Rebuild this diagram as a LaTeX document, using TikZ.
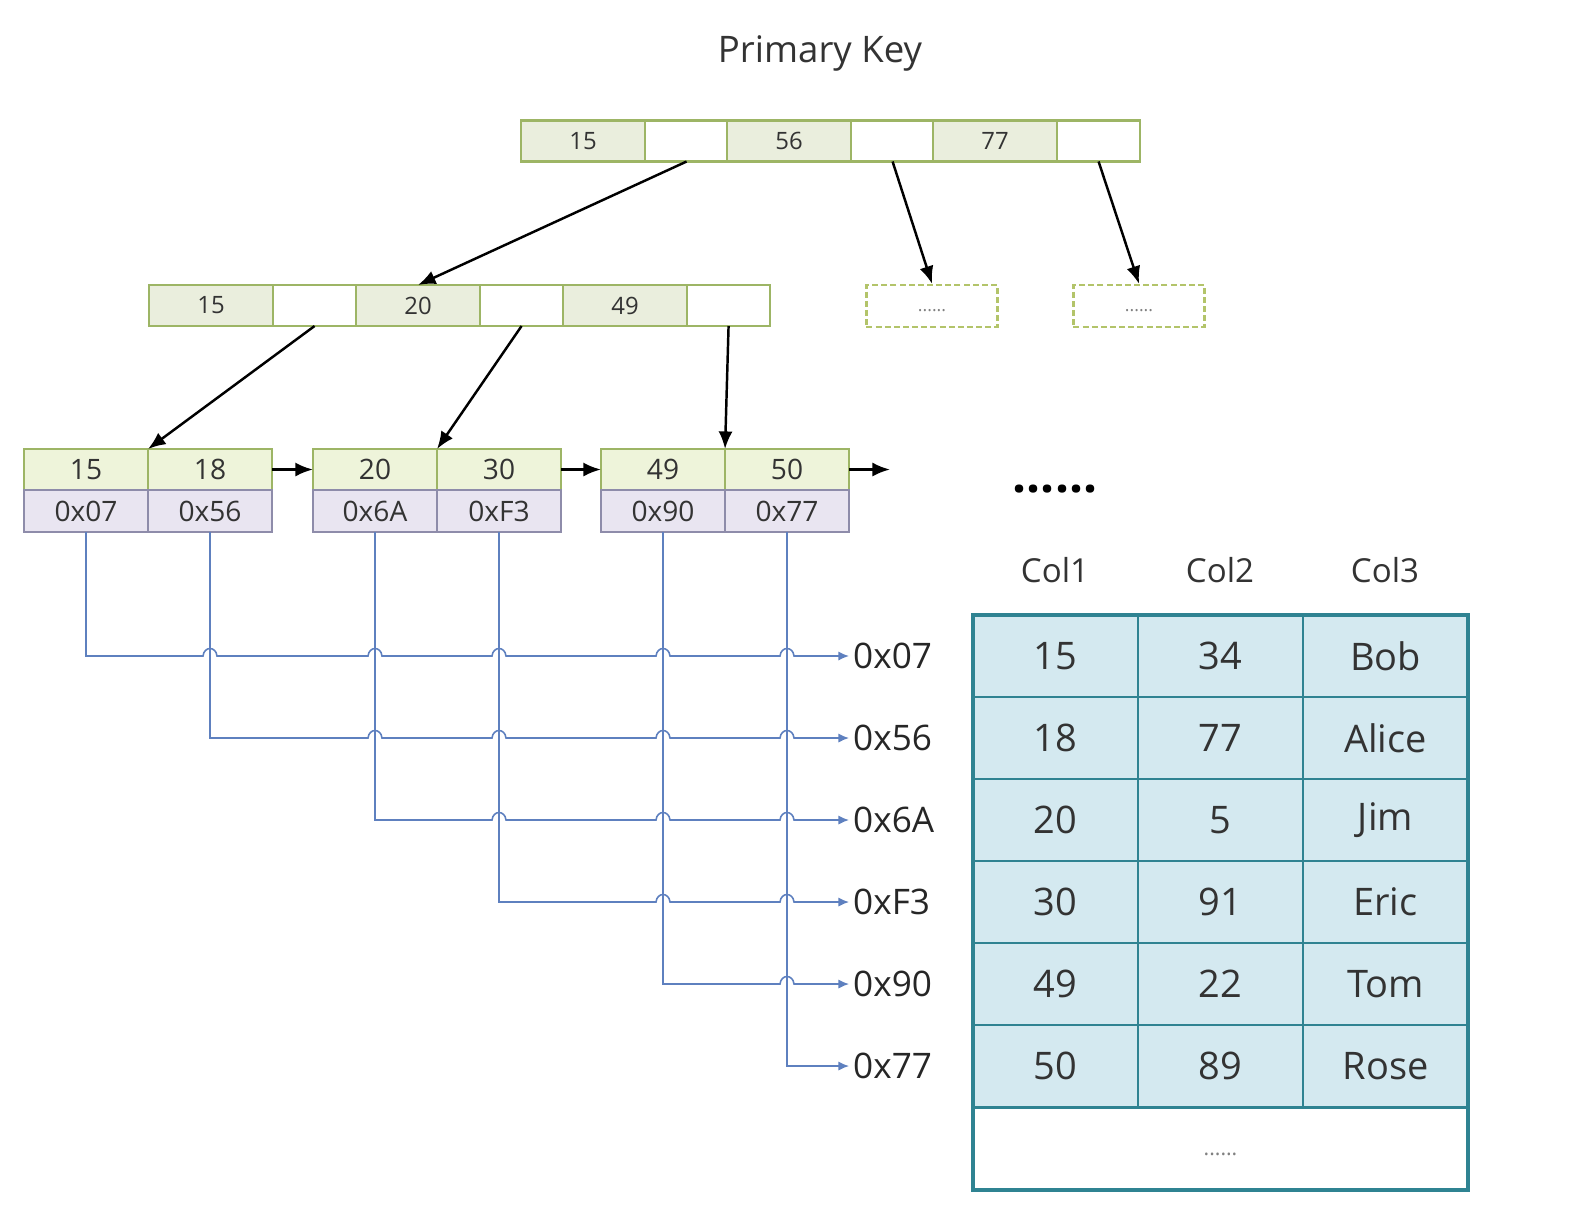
\documentclass[tikz,border=0pt]{standalone}
\usepackage{fontspec}
\setmainfont{Open Sans}
\usetikzlibrary{positioning}
\usetikzlibrary{arrows.meta}

\definecolor{keyfill}{HTML}{EAEEDD}
\definecolor{keyline}{HTML}{9DB565}
\definecolor{leaffill}{HTML}{EEF4DA}
\definecolor{addrfill}{HTML}{E9E5F1}
\definecolor{addrline}{HTML}{8E8CAA}
\definecolor{rowfill}{HTML}{D4E9F0}
\definecolor{rowline}{HTML}{2F8392}
\definecolor{wireblue}{HTML}{5E80BF}
\definecolor{inktext}{HTML}{333333}
\definecolor{dashline}{HTML}{B3C46A}

\begin{document}
\begin{tikzpicture}[x=0.01cm,y=-0.01cm,
  cell/.style={draw=keyline,line width=0.6pt,inner sep=0pt,outer sep=0pt,minimum height=0.41cm,text=inktext},
  keycell/.style={cell,fill=keyfill,minimum width=1.24cm,font=\fontsize{6.8}{8}\selectfont},
  ptrcell/.style={cell,fill=white,minimum width=0.83cm},
  leafkey/.style={cell,fill=leaffill,minimum width=1.24cm,font=\fontsize{8}{9}\selectfont},
  leafaddr/.style={cell,draw=addrline,fill=addrfill,minimum width=1.24cm,minimum height=0.42cm,font=\fontsize{8}{9}\selectfont},
  morebox/.style={draw=dashline,dash pattern=on 1.7pt off 0.9pt,line width=0.7pt,minimum width=1.31cm,minimum height=0.42cm,inner sep=0pt,text=gray,font=\fontsize{5}{6}\selectfont},
  rowcell/.style={draw=rowline,fill=rowfill,line width=0.8pt,minimum width=1.65cm,minimum height=0.82cm,inner sep=0pt,outer sep=0pt,text=inktext,font=\fontsize{10.8}{12}\selectfont},
  link/.style={-{Latex[length=5pt,width=4pt]},line width=0.7pt},
  wire/.style={-{Latex[length=3pt,width=2.6pt]},draw=wireblue,line width=0.45pt}]
\useasboundingbox (0,0) rectangle (1580,1214);

\node[text=inktext,font=\fontsize{10.4}{12}\selectfont] (title) at (820,53) {Primary Key};

% root page
\foreach \k/\x in {15/583,56/789,77/995} {
  \node[keycell] (r\k) at (\x,141) {\k};
  \node[ptrcell,right=0pt of r\k] (r\k p) {};
}
% inner page
\foreach \k/\x in {15/211,20/418,49/625} {
  \node[keycell] (m\k) at (\x,305.5) {\k};
  \node[ptrcell,right=0pt of m\k] (m\k p) {};
}
\node[morebox] (more1) at (932,306) {\raisebox{-3pt}{......}};
\node[morebox] (more2) at (1139,306) {\raisebox{-3pt}{......}};

% leaf pages
\foreach \k/\a/\x in {15/07/86,18/56/210,20/6A/375,30/F3/499,49/90/663,50/77/787} {
  \node[leafkey] (l\k) at (\x,469.5) {\k};
  \node[leafaddr,below=0pt of l\k] (a\a) {0x\a};
}
\coordinate (next) at (890,469.5);
\node[font=\fontsize{14}{14}\selectfont\bfseries] (dots) at (1055,489) {......};

\draw[link] (r15p.south) -- (m20.north);
\draw[link] (r56p.south) -- (more1.north);
\draw[link] (r77p.south) -- (more2.north);
\draw[link] (m15p.south) -- (l15.north east);
\draw[link] (m20p.south) -- (l20.north east);
\draw[link] (m49p.south) -- (l49.north east);
\draw[link] (l18.east) -- (l20.west);
\draw[link] (l30.east) -- (l49.west);
\draw[link] (l50.east) -- (next);

% row addresses
\foreach \a/\y in {07/656,56/738,6A/820,F3/902,90/984,77/1066}
  \node[anchor=west,inner sep=1pt,text=black!85,font=\fontsize{10}{12}\selectfont] (p\a) at (849,\y) {0x\a};

\foreach \a/\y/\h in {07/656/{210,375,499,663,787},56/738/{375,499,663,787},6A/820/{499,663,787},F3/902/{663,787},90/984/{787}}
  \draw[wire] (a\a.south) -- (a\a.south |- p\a.west)
    \foreach \x in \h {-- (\x-7,\y) .. controls (\x-6,\y-10) and (\x+6,\y-10) .. (\x+7,\y)}
    -- (p\a.west);
\draw[wire] (a77.south) |- (p77.west);

% table
\foreach \t/\c in {1/Col1,2/Col2,3/Col3}
  \node[text=inktext,font=\fontsize{9.4}{11}\selectfont] (h\t) at (890+165*\t,570) {\c};
\foreach \u/\v/\w [count=\i] in {15/34/Bob,18/77/Alice,20/5/Jim,30/91/Eric,49/22/Tom,50/89/Rose} {
  \node[rowcell] (t\i a) at (1055.5,574+82*\i) {\u};
  \node[rowcell] (t\i b) at (1220.5,574+82*\i) {\v};
  \node[rowcell] (t\i c) at (1385.5,574+82*\i) {\w};
}
\node[rowcell,fill=white,minimum width=4.95cm,text=gray,font=\fontsize{6}{7}\selectfont] (tmore) at (1220.5,1149) {\raisebox{-4pt}{......}};
\draw[rowline,line width=1.1pt] (t1a.north west) rectangle (tmore.south east);
\end{tikzpicture}
\end{document}
